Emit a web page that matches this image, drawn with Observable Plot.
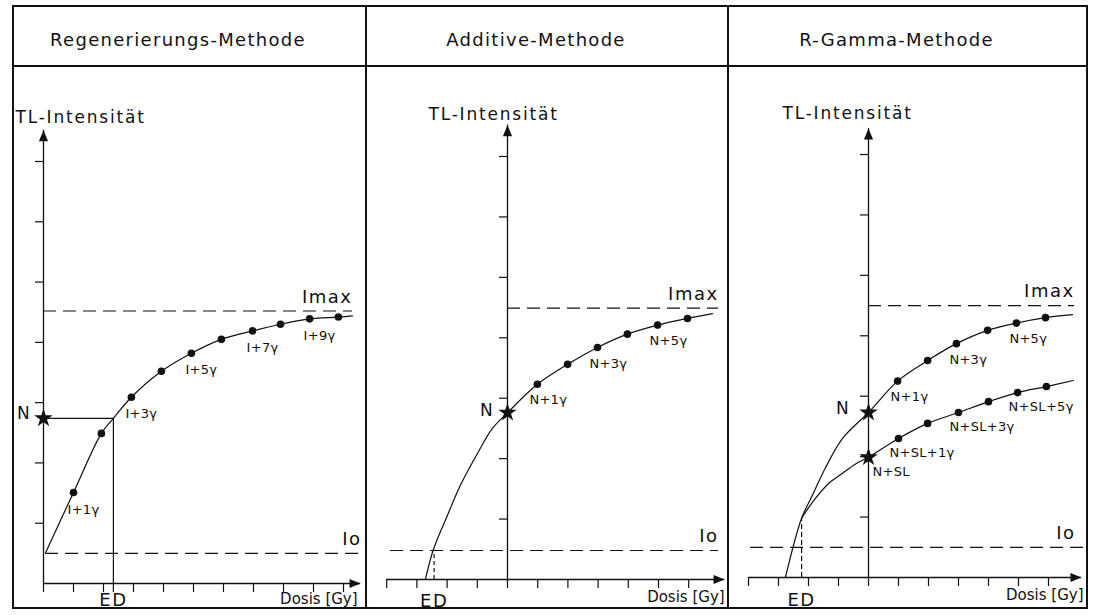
<!DOCTYPE html>
<html>
<head>
<meta charset="utf-8">
<script src="https://cdn.jsdelivr.net/npm/d3@7"></script>
<script src="https://cdn.jsdelivr.net/npm/@observablehq/plot@0.6"></script>
<style>
  body { margin: 0; background: #fff; }
  #root { position: relative; width: 1094px; height: 615px; overflow: hidden; font-family: "DejaVu Sans", sans-serif; color: #111; }
  .ln { position: absolute; background: #111; z-index: 5; }
  .title { position: absolute; top: 5px; height: 61px; box-sizing: border-box; padding-top: 8px; padding-right: 22px;
           display: flex; align-items: center; justify-content: center; font-size: 18px; letter-spacing: 1.3px; }
  .panel { position: absolute; top: 66px; }
</style>
</head>
<body>
<div id="root"></div>
<script>
// ---------------- text ----------------
const panelTitles = ["Regenerierungs-Methode", "Additive-Methode", "R-Gamma-Methode"];
const yAxisLabel = "TL-Intensität";
const xAxisLabel = "Dosis [Gy]";
const edLabel = "ED";
const levelNames = ["Imax", "Io"];

// ---------------- Regenerierungs-Methode ----------------
const regTicksDose = [0, 1, 2, 3, 4, 5, 6, 7, 8, 9, 10];
const regTicksTL = [1, 2, 3, 4, 5, 6, 7];
const regAxisDose = [0, 10.57];
const regAxisTL = [0, 7.52];
const regLevelTL = [4.52, 0.5];
const regLevelFrom = [0, 0.07];
const regLevelTo = [10.3, 10.6];
const regStarDose = [0];
const regStarTL = [2.74];
const regStarLabel = ["N"];
const regED = [2.33];
const regEDTop = [2.74];
const regCurveDose = [0.07, 1.0, 1.93, 2.33, 2.93, 3.93, 4.93, 5.93, 6.97, 7.9, 8.87, 9.83, 10.3];
const regCurveTL = [0.51, 1.51, 2.49, 2.74, 3.09, 3.52, 3.82, 4.05, 4.19, 4.30, 4.39, 4.42, 4.44];
const regDotDose = [1.0, 1.93, 2.93, 3.93, 4.93, 5.93, 6.97, 7.9, 8.87, 9.83];
const regDotTL = [1.51, 2.49, 3.09, 3.52, 3.82, 4.05, 4.19, 4.30, 4.39, 4.42];
const regDotLabel = ["I+1γ", "", "I+3γ", "", "I+5γ", "", "I+7γ", "", "I+9γ", ""];

// ---------------- Additive-Methode ----------------
const addTicksDose = [-4, -3, -2, -1, 0, 1, 2, 3, 4, 5, 6];
const addTicksTL = [1, 2, 3, 4, 5, 6, 7];
const addAxisDose = [-4, 7.19];
const addAxisTL = [0, 7.52];
const addLevelTL = [4.49, 0.48];
const addLevelFrom = [0, -3.87];
const addLevelTo = [6.99, 6.99];
const addStarDose = [0];
const addStarTL = [2.76];
const addStarLabel = ["N"];
const addED = [-2.43];
const addEDTop = [0.48];
const addCurveDose = [-2.72, -2.45, -1.99, -1.56, -0.99, -0.50, 0, 0.99, 1.99, 2.98, 3.97, 4.97, 5.96, 6.79];
const addCurveTL = [0, 0.50, 1.06, 1.56, 2.09, 2.50, 2.76, 3.23, 3.56, 3.84, 4.06, 4.21, 4.32, 4.40];
const addDotDose = [0.99, 1.99, 2.98, 3.97, 4.97, 5.96];
const addDotTL = [3.23, 3.56, 3.84, 4.06, 4.21, 4.32];
const addDotLabel = ["N+1γ", "", "N+3γ", "", "N+5γ", ""];

// ---------------- R-Gamma-Methode ----------------
const rgTicksDose = [-4, -3, -2, -1, 0, 1, 2, 3, 4, 5, 6];
const rgTicksTL = [1, 2, 3, 4, 5, 6, 7];
const rgAxisDose = [-4, 7.1];
const rgAxisTL = [0, 7.43];
const rgLevelTL = [4.50, 0.50];
const rgLevelFrom = [0, -3.93];
const rgLevelTo = [6.87, 7.17];
const rgStarDose = [0, 0];
const rgStarTL = [2.73, 1.99];
const rgStarLabel = ["N", "N+SL"];
const rgED = [-2.23];
const rgEDTop = [0.98];
const rgCurveNDose = [-2.77, -2.23, -1.87, -1.43, -0.87, 0, 0.97, 1.97, 2.93, 3.97, 4.93, 5.9, 6.8];
const rgCurveNTL = [0, 0.98, 1.36, 1.82, 2.30, 2.73, 3.25, 3.59, 3.87, 4.09, 4.21, 4.30, 4.35];
const rgCurveSLDose = [-2.23, -1.99, -1.77, -1.32, -0.88, -0.43, 0, 1.0, 1.97, 3.0, 4.0, 4.97, 5.93, 6.83];
const rgCurveSLTL = [0.98, 1.16, 1.31, 1.56, 1.72, 1.88, 1.99, 2.30, 2.55, 2.73, 2.91, 3.06, 3.16, 3.26];
const rgDotNDose = [0.97, 1.97, 2.93, 3.97, 4.93, 5.9];
const rgDotNTL = [3.25, 3.59, 3.87, 4.09, 4.21, 4.30];
const rgDotNLabel = ["N+1γ", "", "N+3γ", "", "N+5γ", ""];
const rgDotSLDose = [1.0, 1.97, 3.0, 4.0, 4.97, 5.93];
const rgDotSLTL = [2.30, 2.55, 2.73, 2.91, 3.06, 3.16];
const rgDotSLLabel = ["N+SL+1γ", "", "N+SL+3γ", "", "N+SL+5γ", ""];

// ---------------- drawing ----------------
const ink = "#111";
const zip = (xs, ys, ls) => xs.map((x, i) => ({x, y: ys[i], label: ls ? ls[i] : ""}));

const arrowHead = {
  draw(ctx, size) {
    const s = Math.sqrt(size);
    ctx.moveTo(0, 0);
    ctx.lineTo(-0.6 * s, 1.45 * s);
    ctx.lineTo(0.6 * s, 1.45 * s);
    ctx.closePath();
  }
};

function panel(c) {
  const levels = c.levelTL.map((y, i) => ({y, x1: c.levelFrom[i], x2: c.levelTo[i], name: levelNames[i], dx: c.levelDx[i]}));
  const marks = [];
  // axes
  marks.push(Plot.ruleY([0], {x1: c.axisDose[0], x2: c.axisDose[1], stroke: ink, strokeWidth: 1.3}));
  marks.push(Plot.ruleX([0], {y1: c.axisTL[0], y2: c.axisTL[1], stroke: ink, strokeWidth: 1.3}));
  marks.push(Plot.dot([c.axisDose[1]], {x: d => d, y: () => 0, symbol: arrowHead, r: 4.3, rotate: 90, fill: ink}));
  marks.push(Plot.dot([c.axisTL[1]], {x: () => 0, y: d => d, symbol: arrowHead, r: 4.3, fill: ink}));
  marks.push(Plot.ruleX(c.ticksDose, {x: d => d, y1: 0, y2: 0, insetTop: 9, stroke: ink, strokeWidth: 1.2}));
  marks.push(Plot.ruleY(c.ticksTL, {y: d => d, x1: 0, x2: 0, insetLeft: -8, stroke: ink, strokeWidth: 1.2}));
  // Imax / Io
  marks.push(Plot.ruleY(levels, {y: "y", x1: "x1", x2: "x2", stroke: ink, strokeWidth: 1.2, strokeDasharray: "13,7"}));
  levels.forEach(l => marks.push(Plot.text([l], {x: "x2", y: "y", text: "name", textAnchor: "end", dx: l.dx, dy: -14, fontSize: 18, fill: ink})));
  // ED
  marks.push(Plot.ruleX(c.ed, {x: d => d, y1: 0, y2: c.edTop[0], insetTop: c.edBelow, stroke: ink, strokeWidth: 1.2, strokeDasharray: c.edDash}));
  if (c.edBox) marks.push(Plot.ruleY(c.edTop, {y: d => d, x1: 0, x2: c.ed[0], stroke: ink, strokeWidth: 1.2}));
  marks.push(Plot.text(c.ed, {x: d => d, y: () => 0, text: () => edLabel, dy: c.edDy, fontSize: 18, fill: ink}));
  // curves
  c.curves.forEach(cv => marks.push(Plot.line(zip(cv.dose, cv.tl), {x: "x", y: "y", curve: "catmull-rom", stroke: ink, strokeWidth: 1.2})));
  // measured points
  c.dots.forEach(ds => {
    const pts = zip(ds.dose, ds.tl, ds.label);
    marks.push(Plot.dot(pts, {x: "x", y: "y", r: 3.8, fill: ink}));
    marks.push(Plot.text(pts.filter(d => d.label), {x: "x", y: "y", text: "label", textAnchor: "start", dx: ds.dx, dy: ds.dy, fontSize: 13, fill: ink}));
  });
  // stars
  const stars = zip(c.starDose, c.starTL, c.starLabel);
  marks.push(Plot.dot(stars, {x: "x", y: "y", symbol: "star", r: 5.8, fill: ink}));
  stars.forEach((s, i) => {
    const o = c.starText[i];
    marks.push(Plot.text([s], {x: "x", y: "y", text: "label", textAnchor: o.anchor, dx: o.dx, dy: o.dy, fontSize: o.size, fill: ink}));
  });
  // axis titles
  marks.push(Plot.text([c.axisTL[1]], {x: () => 0, y: d => d, text: () => yAxisLabel, textAnchor: "start", dx: c.ylab[0], dy: c.ylab[1], fontSize: 17, fill: ink}));
  marks.push(Plot.text([c.axisDose[1]], {x: d => d, y: () => 0, text: () => xAxisLabel, textAnchor: "end", dx: c.xlab[0], dy: c.xlab[1], fontSize: 15, fill: ink}));

  return Plot.plot({
    width: c.width,
    height: 543,
    x: {domain: c.xDomain, range: c.xRange, axis: null},
    y: {domain: [0, 7], range: c.yRange, axis: null},
    style: {background: "transparent", overflow: "visible", maxWidth: "none", fontFamily: "DejaVu Sans, sans-serif"},
    marks
  });
}

const configs = [
  {
    left: 12, width: 354, xDomain: [0, 10], xRange: [31, 331], yRange: [517, 95],
    ticksDose: regTicksDose, ticksTL: regTicksTL, axisDose: regAxisDose, axisTL: regAxisTL,
    levelTL: regLevelTL, levelFrom: regLevelFrom, levelTo: regLevelTo, levelDx: [0, 0],
    starDose: regStarDose, starTL: regStarTL, starLabel: regStarLabel,
    starText: [{anchor: "end", dx: -12, dy: -5, size: 17}],
    ed: regED, edTop: regEDTop, edBelow: 9, edDash: null, edBox: true, edDy: 17,
    curves: [{dose: regCurveDose, tl: regCurveTL}],
    dots: [{dose: regDotDose, tl: regDotTL, label: regDotLabel, dx: -6, dy: 17}],
    ylab: [-28, -13], xlab: [-3, 16]
  },
  {
    left: 366, width: 362, xDomain: [0, 6], xRange: [141, 322.2], yRange: [513, 90],
    ticksDose: addTicksDose, ticksTL: addTicksTL, axisDose: addAxisDose, axisTL: addAxisTL,
    levelTL: addLevelTL, levelFrom: addLevelFrom, levelTo: addLevelTo, levelDx: [0, 0],
    starDose: addStarDose, starTL: addStarTL, starLabel: addStarLabel,
    starText: [{anchor: "end", dx: -13, dy: -2, size: 17}],
    ed: addED, edTop: addEDTop, edBelow: 0, edDash: "4,3", edBox: false, edDy: 22,
    curves: [{dose: addCurveDose, tl: addCurveTL}],
    dots: [{dose: addDotDose, tl: addDotTL, label: addDotLabel, dx: -8, dy: 16}],
    ylab: [-79, -11], xlab: [0, 18]
  },
  {
    left: 728, width: 359, xDomain: [0, 6], xRange: [140, 320], yRange: [511, 88],
    ticksDose: rgTicksDose, ticksTL: rgTicksTL, axisDose: rgAxisDose, axisTL: rgAxisTL,
    levelTL: rgLevelTL, levelFrom: rgLevelFrom, levelTo: rgLevelTo, levelDx: [0, -8],
    starDose: rgStarDose, starTL: rgStarTL, starLabel: rgStarLabel,
    starText: [{anchor: "end", dx: -18, dy: -4, size: 17}, {anchor: "start", dx: 4, dy: 15, size: 13}],
    ed: rgED, edTop: rgEDTop, edBelow: 0, edDash: "5,3", edBox: false, edDy: 23,
    curves: [{dose: rgCurveNDose, tl: rgCurveNTL}, {dose: rgCurveSLDose, tl: rgCurveSLTL}],
    dots: [
      {dose: rgDotNDose, tl: rgDotNTL, label: rgDotNLabel, dx: -7, dy: 16},
      {dose: rgDotSLDose, tl: rgDotSLTL, label: rgDotSLLabel, dx: -9, dy: 14}
    ],
    ylab: [-86, -15], xlab: [2, 18]
  }
];

const root = document.getElementById("root");

configs.forEach((c, i) => {
  const box = document.createElement("div");
  box.className = "panel";
  box.style.left = c.left + "px";
  box.style.width = c.width + "px";
  box.appendChild(panel(c));
  root.appendChild(box);

  const t = document.createElement("div");
  t.className = "title";
  t.style.left = c.left + "px";
  t.style.width = c.width + "px";
  t.textContent = panelTitles[i];
  root.appendChild(t);
});

// letter spacing similar to the stencil lettering
root.querySelectorAll("svg text").forEach(t => {
  const fs = parseFloat(getComputedStyle(t).fontSize);
  t.style.letterSpacing = fs >= 18 ? "1.5px" : fs >= 17 ? "1.8px" : fs >= 15 ? "0px" : "0.3px";
});

// frame lines
const lines = [
  [12, 5, 1076, 2], [12, 607, 1076, 2], [12, 5, 2, 604], [1086, 5, 2, 604],
  [12, 65, 1076, 2], [365, 5, 2, 604], [727, 5, 2, 604]
];
lines.forEach(([l, t, w, h]) => {
  const d = document.createElement("div");
  d.className = "ln";
  Object.assign(d.style, {left: l + "px", top: t + "px", width: w + "px", height: h + "px"});
  root.appendChild(d);
});
</script>
</body>
</html>
